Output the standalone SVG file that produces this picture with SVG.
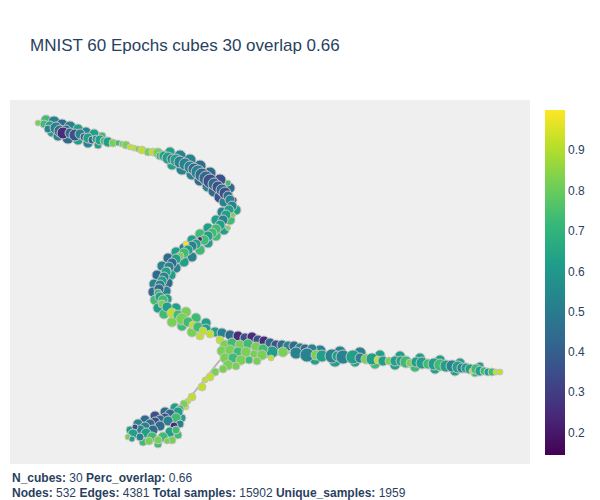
<svg xmlns="http://www.w3.org/2000/svg" width="600" height="500" viewBox="0 0 600 500">
<defs>
<linearGradient id="viridis" x1="0" y1="1" x2="0" y2="0">
<stop offset="0" stop-color="#440154"/>
<stop offset="0.111" stop-color="#482878"/>
<stop offset="0.222" stop-color="#3e4989"/>
<stop offset="0.333" stop-color="#31688e"/>
<stop offset="0.444" stop-color="#26828e"/>
<stop offset="0.556" stop-color="#1f9e89"/>
<stop offset="0.667" stop-color="#35b779"/>
<stop offset="0.778" stop-color="#6ece58"/>
<stop offset="0.889" stop-color="#b5de2b"/>
<stop offset="1" stop-color="#fde725"/>
</linearGradient>
<style>
.nodes circle{stroke:#c4c4c4;stroke-width:1}
.p{fill:#472c7a}.i{fill:#3b518b}.b{fill:#2f6b8e}.t{fill:#26838f}.g{fill:#1fa088}.m{fill:#3fbc73}.l{fill:#77d153}.y{fill:#bfe02a}.Y{fill:#f0e51c}
.edge{stroke:#b4b4b4;stroke-width:2;fill:none}
text{font-family:"Liberation Sans",Arial,sans-serif;fill:#2a3f5f}
.tick{font-size:12px}
.info{font-size:12px;fill:#2a3f5f}
</style>
</defs>
<rect x="0" y="0" width="600" height="500" fill="#ffffff"/>
<rect x="10" y="100" width="520" height="364" fill="#efefef"/>
<text x="30" y="51" font-size="17">MNIST 60 Epochs cubes 30 overlap 0.66</text>

<g id="edges">
<polyline class="edge" points="40,124 100,140 160,155 200,172 232,198 222,222 190,248 164,276 160,296 180,317 215,334 300,349 400,361 500,372"/>
<line class="edge" x1="245" y1="362" x2="300" y2="350"/>
<line class="edge" x1="220" y1="360" x2="180" y2="410"/>
<line class="edge" x1="235" y1="345" x2="290" y2="347"/>
</g>

<g class="nodes">
<g id="n205"><circle cx="46" cy="120" r="5" class="m"/></g>
<g id="n206"><circle cx="54" cy="122" r="6" class="t"/></g>
<g id="n207"><circle cx="62" cy="125" r="6" class="b"/></g>
<g id="n208"><circle cx="70" cy="127" r="6" class="t"/></g>
<g id="n209"><circle cx="78" cy="129" r="5" class="g"/></g>
<g id="n210"><circle cx="86" cy="132" r="5" class="t"/></g>
<g id="n211"><circle cx="94" cy="134" r="5" class="g"/></g>
<g id="n212"><circle cx="102" cy="136" r="4" class="m"/></g>
<g id="n213"><circle cx="52" cy="132" r="5" class="g"/></g>
<g id="n214"><circle cx="58" cy="136" r="5" class="t"/></g>
<g id="n215"><circle cx="68" cy="138" r="6" class="b"/></g>
<g id="n216"><circle cx="78" cy="140" r="5" class="g"/></g>
<g id="n217"><circle cx="88" cy="143" r="5" class="t"/></g>
<g id="n218"><circle cx="98" cy="145" r="4" class="g"/></g>
<g id="n219"><circle cx="170" cy="152" r="5" class="g"/></g>
<g id="n220"><circle cx="180" cy="156" r="6" class="t"/></g>
<g id="n221"><circle cx="190" cy="160" r="6" class="t"/></g>
<g id="n222"><circle cx="200" cy="166" r="6" class="b"/></g>
<g id="n223"><circle cx="210" cy="173" r="6" class="b"/></g>
<g id="n224"><circle cx="220" cy="180" r="6" class="i"/></g>
<g id="n225"><circle cx="230" cy="188" r="5" class="b"/></g>
<g id="n226"><circle cx="172" cy="165" r="5" class="g"/></g>
<g id="n227"><circle cx="182" cy="169" r="6" class="t"/></g>
<g id="n228"><circle cx="192" cy="174" r="6" class="t"/></g>
<g id="n229"><circle cx="200" cy="180" r="6" class="b"/></g>
<g id="n230"><circle cx="208" cy="186" r="6" class="t"/></g>
<g id="n231"><circle cx="214" cy="191" r="6" class="b"/></g>
<g id="n232"><circle cx="220" cy="197" r="6" class="i"/></g>
<g id="n233"><circle cx="224" cy="202" r="5" class="t"/></g>
<g id="n234"><circle cx="236" cy="210" r="5" class="g"/></g>
<g id="n235"><circle cx="230" cy="220" r="5" class="m"/></g>
<g id="n236"><circle cx="224" cy="230" r="5" class="g"/></g>
<g id="n237"><circle cx="216" cy="236" r="5" class="m"/></g>
<g id="n238"><circle cx="208" cy="243" r="5" class="g"/></g>
<g id="n239"><circle cx="200" cy="250" r="5" class="m"/></g>
<g id="n240"><circle cx="192" cy="257" r="5" class="t"/></g>
<g id="n241"><circle cx="184" cy="262" r="5" class="g"/></g>
<g id="n242"><circle cx="176" cy="268" r="5" class="t"/></g>
<g id="n243"><circle cx="171" cy="275" r="5" class="g"/></g>
<g id="n244"><circle cx="168" cy="283" r="5" class="b"/></g>
<g id="n245"><circle cx="166" cy="291" r="5" class="t"/></g>
<g id="n246"><circle cx="167" cy="299" r="5" class="g"/></g>
<g id="n247"><circle cx="222" cy="212" r="5" class="t"/></g>
<g id="n248"><circle cx="216" cy="220" r="5" class="g"/></g>
<g id="n249"><circle cx="208" cy="228" r="5" class="g"/></g>
<g id="n250"><circle cx="200" cy="234" r="5" class="m"/></g>
<g id="n251"><circle cx="192" cy="240" r="5" class="g"/></g>
<g id="n252"><circle cx="184" cy="248" r="5" class="t"/></g>
<g id="n253"><circle cx="176" cy="252" r="5" class="g"/></g>
<g id="n254"><circle cx="168" cy="258" r="5" class="b"/></g>
<g id="n255"><circle cx="162" cy="266" r="5" class="t"/></g>
<g id="n256"><circle cx="157" cy="275" r="5" class="b"/></g>
<g id="n257"><circle cx="154" cy="284" r="5" class="t"/></g>
<g id="n258"><circle cx="153" cy="292" r="5" class="b"/></g>
<g id="n259"><circle cx="155" cy="300" r="5" class="m"/></g>
<g id="n260"><circle cx="158" cy="308" r="5" class="g"/></g>
<g id="n261"><circle cx="164" cy="314" r="5" class="m"/></g>
<g id="n262"><circle cx="176" cy="308" r="5" class="g"/></g>
<g id="n263"><circle cx="186" cy="312" r="5" class="l"/></g>
<g id="n264"><circle cx="196" cy="318" r="5" class="m"/></g>
<g id="n265"><circle cx="206" cy="323" r="5" class="g"/></g>
<g id="n266"><circle cx="172" cy="322" r="5" class="l"/></g>
<g id="n267"><circle cx="182" cy="326" r="5" class="m"/></g>
<g id="n268"><circle cx="192" cy="332" r="5" class="l"/></g>
<g id="n269"><circle cx="200" cy="336" r="4" class="y"/></g>
<g id="n270"><circle cx="320" cy="351" r="6" class="t"/></g>
<g id="n271"><circle cx="340" cy="352" r="6" class="t"/></g>
<g id="n272"><circle cx="360" cy="353" r="6" class="t"/></g>
<g id="n273"><circle cx="380" cy="355" r="5" class="g"/></g>
<g id="n274"><circle cx="400" cy="356" r="5" class="g"/></g>
<g id="n275"><circle cx="420" cy="358" r="5" class="g"/></g>
<g id="n276"><circle cx="440" cy="360" r="5" class="g"/></g>
<g id="n277"><circle cx="460" cy="363" r="5" class="g"/></g>
<g id="n278"><circle cx="480" cy="366" r="4" class="g"/></g>
<g id="n279"><circle cx="315" cy="360" r="5" class="g"/></g>
<g id="n280"><circle cx="335" cy="361" r="6" class="g"/></g>
<g id="n281"><circle cx="355" cy="362" r="5" class="g"/></g>
<g id="n282"><circle cx="375" cy="364" r="5" class="m"/></g>
<g id="n283"><circle cx="395" cy="365" r="5" class="g"/></g>
<g id="n284"><circle cx="415" cy="367" r="5" class="m"/></g>
<g id="n285"><circle cx="435" cy="369" r="5" class="g"/></g>
<g id="n286"><circle cx="455" cy="371" r="5" class="g"/></g>
<g id="n287"><circle cx="475" cy="373" r="4" class="m"/></g>
<g id="n288"><circle cx="175" cy="408" r="5" class="g"/></g>
<g id="n289"><circle cx="165" cy="412" r="5" class="b"/></g>
<g id="n290"><circle cx="155" cy="416" r="5" class="i"/></g>
<g id="n291"><circle cx="145" cy="420" r="5" class="b"/></g>
<g id="n292"><circle cx="138" cy="424" r="5" class="t"/></g>
<g id="n293"><circle cx="130" cy="430" r="4" class="g"/></g>
<g id="n294"><circle cx="182" cy="418" r="4" class="g"/></g>
<g id="n295"><circle cx="172" cy="440" r="4" class="l"/></g>
<g id="n296"><circle cx="158" cy="444" r="4" class="m"/></g>
<g id="n297"><circle cx="143" cy="442" r="4" class="m"/></g>
<g id="n298"><circle cx="178" cy="435" r="4" class="m"/></g>

<g id="n1"><circle cx="38" cy="123" r="3" class="l"/></g>
<g id="n2"><circle cx="44" cy="124" r="4" class="m"/></g>
<g id="n3"><circle cx="50" cy="126" r="5" class="g"/></g>
<g id="n4"><circle cx="48" cy="129" r="4" class="t"/></g>
<g id="n5"><circle cx="56" cy="128" r="6" class="t"/></g>
<g id="n6"><circle cx="60" cy="131" r="6" class="b"/></g>
<g id="n7"><circle cx="66" cy="130" r="5" class="b"/></g>
<g id="n8"><circle cx="63" cy="133" r="6" class="p"/></g>
<g id="n9"><circle cx="70" cy="133" r="5" class="b"/></g>
<g id="n10"><circle cx="75" cy="135" r="6" class="i"/></g>
<g id="n11"><circle cx="80" cy="134" r="5" class="t"/></g>
<g id="n12"><circle cx="84" cy="137" r="4" class="b"/></g>
<g id="n13"><circle cx="88" cy="138" r="5" class="g"/></g>
<g id="n14"><circle cx="92" cy="140" r="4" class="b"/></g>
<g id="n15"><circle cx="96" cy="139" r="4" class="g"/></g>
<g id="n16"><circle cx="100" cy="140" r="5" class="g"/></g>
<g id="n17"><circle cx="104" cy="141" r="4" class="m"/></g>
<g id="n18"><circle cx="108" cy="142" r="5" class="g"/></g>
<g id="n19"><circle cx="113" cy="143" r="4" class="l"/></g>
<g id="n20"><circle cx="118" cy="143" r="3" class="m"/></g>
<g id="n21"><circle cx="122" cy="144" r="3" class="l"/></g>
<g id="n22"><circle cx="126" cy="145" r="4" class="l"/></g>
<g id="n23"><circle cx="130" cy="147" r="3" class="y"/></g>
<g id="n24"><circle cx="134" cy="148" r="3" class="y"/></g>
<g id="n25"><circle cx="138" cy="149" r="3" class="l"/></g>
<g id="n26"><circle cx="142" cy="150" r="4" class="y"/></g>
<g id="n27"><circle cx="148" cy="152" r="4" class="l"/></g>
<g id="n28"><circle cx="153" cy="152" r="4" class="y"/></g>
<g id="n29"><circle cx="158" cy="153" r="5" class="l"/></g>
<g id="n30"><circle cx="160" cy="156" r="4" class="m"/></g>
<g id="n31"><circle cx="164" cy="156" r="5" class="g"/></g>
<g id="n32"><circle cx="168" cy="158" r="6" class="g"/></g>
<g id="n33"><circle cx="172" cy="159" r="5" class="t"/></g>
<g id="n34"><circle cx="176" cy="160" r="6" class="g"/></g>
<g id="n35"><circle cx="180" cy="162" r="6" class="t"/></g>
<g id="n36"><circle cx="185" cy="164" r="6" class="t"/></g>
<g id="n37"><circle cx="190" cy="167" r="6" class="t"/></g>
<g id="n38"><circle cx="194" cy="169" r="6" class="b"/></g>
<g id="n39"><circle cx="198" cy="172" r="7" class="t"/></g>
<g id="n40"><circle cx="228" cy="183" r="3" class="m"/></g>
<g id="n41"><circle cx="202" cy="175" r="7" class="b"/></g>
<g id="n42"><circle cx="206" cy="178" r="7" class="b"/></g>
<g id="n43"><circle cx="210" cy="181" r="7" class="i"/></g>
<g id="n44"><circle cx="214" cy="184" r="6" class="b"/></g>
<g id="n45"><circle cx="218" cy="187" r="6" class="i"/></g>
<g id="n46"><circle cx="222" cy="190" r="6" class="b"/></g>
<g id="n47"><circle cx="225" cy="193" r="6" class="i"/></g>
<g id="n48"><circle cx="228" cy="196" r="5" class="b"/></g>
<g id="n49"><circle cx="234" cy="200" r="3" class="p"/></g>
<g id="n50"><circle cx="230" cy="200" r="5" class="t"/></g>
<g id="n51"><circle cx="232" cy="206" r="5" class="t"/></g>
<g id="n52"><circle cx="229" cy="210" r="5" class="g"/></g>
<g id="n53"><circle cx="226" cy="215" r="5" class="g"/></g>
<g id="n54"><circle cx="233" cy="215" r="2.5" class="l"/></g>
<g id="n55"><circle cx="223" cy="220" r="5" class="t"/></g>
<g id="n56"><circle cx="220" cy="225" r="5" class="g"/></g>
<g id="n57"><circle cx="228" cy="228" r="2.5" class="l"/></g>
<g id="n58"><circle cx="216" cy="229" r="5" class="m"/></g>
<g id="n59"><circle cx="212" cy="233" r="5" class="m"/></g>
<g id="n60"><circle cx="208" cy="236" r="5" class="g"/></g>
<g id="n61"><circle cx="204" cy="240" r="5" class="m"/></g>
<g id="n62"><circle cx="200" cy="239" r="2.5" class="p"/></g>
<g id="n63"><circle cx="196" cy="244" r="5" class="g"/></g>
<g id="n64"><circle cx="192" cy="246" r="5" class="t"/></g>
<g id="n65"><circle cx="186" cy="244" r="3" class="Y"/></g>
<g id="n66"><circle cx="188" cy="250" r="5" class="g"/></g>
<g id="n67"><circle cx="184" cy="253" r="5" class="m"/></g>
<g id="n68"><circle cx="180" cy="256" r="4" class="l"/></g>
<g id="n69"><circle cx="176" cy="259" r="5" class="g"/></g>
<g id="n70"><circle cx="172" cy="263" r="5" class="b"/></g>
<g id="n71"><circle cx="169" cy="267" r="5" class="t"/></g>
<g id="n72"><circle cx="168" cy="270" r="3" class="l"/></g>
<g id="n73"><circle cx="166" cy="272" r="5" class="g"/></g>
<g id="n74"><circle cx="164" cy="277" r="5" class="t"/></g>
<g id="n75"><circle cx="162" cy="281" r="5" class="g"/></g>
<g id="n76"><circle cx="160" cy="285" r="5" class="t"/></g>
<g id="n77"><circle cx="159" cy="289" r="5" class="b"/></g>
<g id="n78"><circle cx="158" cy="293" r="4" class="m"/></g>
<g id="n79"><circle cx="160" cy="297" r="5" class="g"/></g>
<g id="n80"><circle cx="163" cy="300" r="5" class="m"/></g>
<g id="n81"><circle cx="162" cy="304" r="4" class="l"/></g>
<g id="n82"><circle cx="167" cy="307" r="5" class="g"/></g>
<g id="n83"><circle cx="172" cy="313" r="5" class="y"/></g>
<g id="n84"><circle cx="178" cy="315" r="5" class="m"/></g>
<g id="n85"><circle cx="182" cy="319" r="6" class="l"/></g>
<g id="n86"><circle cx="188" cy="322" r="5" class="m"/></g>
<g id="n87"><circle cx="193" cy="325" r="4" class="y"/></g>
<g id="n88"><circle cx="198" cy="327" r="5" class="m"/></g>
<g id="n89"><circle cx="206" cy="329" r="5" class="g"/></g>
<g id="n90"><circle cx="203" cy="331" r="4" class="y"/></g>
<g id="n91"><circle cx="215" cy="332" r="5" class="g"/></g>
<g id="n92"><circle cx="222" cy="333" r="5" class="t"/></g>
<g id="n93"><circle cx="230" cy="335" r="5" class="b"/></g>
<g id="n94"><circle cx="238" cy="336" r="5" class="p"/></g>
<g id="n95"><circle cx="245" cy="338" r="5" class="i"/></g>
<g id="n96"><circle cx="252" cy="337" r="5" class="p"/></g>
<g id="n97"><circle cx="258" cy="340" r="5" class="i"/></g>
<g id="n98"><circle cx="264" cy="341" r="5" class="p"/></g>
<g id="n99"><circle cx="270" cy="343" r="5" class="b"/></g>
<g id="n100"><circle cx="276" cy="345" r="5" class="i"/></g>
<g id="n101"><circle cx="282" cy="345" r="5" class="b"/></g>
<g id="n102"><circle cx="288" cy="346" r="5" class="t"/></g>
<g id="n103"><circle cx="294" cy="346" r="5" class="b"/></g>
<g id="n104"><circle cx="300" cy="348" r="5" class="t"/></g>
<g id="n105"><circle cx="305" cy="349" r="5" class="b"/></g>
<g id="n106"><circle cx="312" cy="349" r="5" class="t"/></g>
<g id="n107"><circle cx="210" cy="334" r="4" class="y"/></g>
<g id="n108"><circle cx="272" cy="352" r="6" class="g"/></g>
<g id="n109"><circle cx="283" cy="352" r="5" class="l"/></g>
<g id="n110"><circle cx="296" cy="353" r="6" class="t"/></g>
<g id="n111"><circle cx="307" cy="355" r="7" class="t"/></g>
<g id="n112"><circle cx="316" cy="355" r="5" class="l"/></g>
<g id="n113"><circle cx="322" cy="356" r="6" class="g"/></g>
<g id="n114"><circle cx="332" cy="356" r="7" class="t"/></g>
<g id="n115"><circle cx="337" cy="356" r="5" class="g"/></g>
<g id="n116"><circle cx="343" cy="357" r="7" class="t"/></g>
<g id="n117"><circle cx="353" cy="357" r="7" class="g"/></g>
<g id="n118"><circle cx="360" cy="358" r="5" class="t"/></g>
<g id="n119"><circle cx="366" cy="359" r="5" class="l"/></g>
<g id="n120"><circle cx="372" cy="359" r="6" class="g"/></g>
<g id="n121"><circle cx="378" cy="360" r="4" class="y"/></g>
<g id="n122"><circle cx="383" cy="361" r="5" class="g"/></g>
<g id="n123"><circle cx="389" cy="361" r="4" class="l"/></g>
<g id="n124"><circle cx="395" cy="361" r="5" class="g"/></g>
<g id="n125"><circle cx="401" cy="361" r="5" class="g"/></g>
<g id="n126"><circle cx="406" cy="362" r="6" class="m"/></g>
<g id="n127"><circle cx="410" cy="363" r="4" class="l"/></g>
<g id="n128"><circle cx="416" cy="362" r="5" class="g"/></g>
<g id="n129"><circle cx="422" cy="363" r="6" class="g"/></g>
<g id="n130"><circle cx="428" cy="364" r="5" class="m"/></g>
<g id="n131"><circle cx="434" cy="364" r="6" class="g"/></g>
<g id="n132"><circle cx="440" cy="365" r="6" class="m"/></g>
<g id="n133"><circle cx="446" cy="366" r="6" class="g"/></g>
<g id="n134"><circle cx="452" cy="366" r="6" class="t"/></g>
<g id="n135"><circle cx="458" cy="367" r="6" class="g"/></g>
<g id="n136"><circle cx="462" cy="368" r="5" class="t"/></g>
<g id="n137"><circle cx="466" cy="368" r="5" class="g"/></g>
<g id="n138"><circle cx="470" cy="369" r="5" class="g"/></g>
<g id="n139"><circle cx="472" cy="371" r="3" class="y"/></g>
<g id="n140"><circle cx="476" cy="369" r="5" class="m"/></g>
<g id="n141"><circle cx="480" cy="371" r="5" class="g"/></g>
<g id="n142"><circle cx="484" cy="371" r="4" class="m"/></g>
<g id="n143"><circle cx="488" cy="372" r="4" class="g"/></g>
<g id="n144"><circle cx="492" cy="372" r="4" class="m"/></g>
<g id="n145"><circle cx="496" cy="372" r="3" class="y"/></g>
<g id="n146"><circle cx="500" cy="372" r="3" class="y"/></g>
<g id="n147"><circle cx="220" cy="340" r="4" class="y"/></g>
<g id="n148"><circle cx="225" cy="345" r="5" class="l"/></g>
<g id="n149"><circle cx="232" cy="343" r="5" class="m"/></g>
<g id="n150"><circle cx="240" cy="345" r="5" class="l"/></g>
<g id="n151"><circle cx="248" cy="344" r="5" class="m"/></g>
<g id="n152"><circle cx="256" cy="347" r="5" class="l"/></g>
<g id="n153"><circle cx="263" cy="349" r="5" class="m"/></g>
<g id="n154"><circle cx="222" cy="351" r="5" class="l"/></g>
<g id="n155"><circle cx="230" cy="350" r="5" class="l"/></g>
<g id="n156"><circle cx="238" cy="352" r="5" class="m"/></g>
<g id="n157"><circle cx="246" cy="352" r="5" class="l"/></g>
<g id="n158"><circle cx="254" cy="354" r="4" class="l"/></g>
<g id="n159"><circle cx="262" cy="355" r="5" class="l"/></g>
<g id="n160"><circle cx="271" cy="358" r="3" class="y"/></g>
<g id="n161"><circle cx="225" cy="358" r="5" class="l"/></g>
<g id="n162"><circle cx="233" cy="358" r="5" class="m"/></g>
<g id="n163"><circle cx="241" cy="360" r="5" class="l"/></g>
<g id="n164"><circle cx="249" cy="360" r="4" class="m"/></g>
<g id="n165"><circle cx="257" cy="361" r="4" class="l"/></g>
<g id="n166"><circle cx="228" cy="365" r="5" class="l"/></g>
<g id="n167"><circle cx="236" cy="366" r="4" class="l"/></g>
<g id="n168"><circle cx="223" cy="369" r="4" class="l"/></g>
<g id="n169"><circle cx="215" cy="372" r="4" class="l"/></g>
<g id="n170"><circle cx="210" cy="377" r="4" class="y"/></g>
<g id="n171"><circle cx="205" cy="380" r="3" class="y"/></g>
<g id="n172"><circle cx="202" cy="387" r="4" class="y"/></g>
<g id="n173"><circle cx="192" cy="397" r="4" class="y"/></g>
<g id="n174"><circle cx="188" cy="401" r="3" class="y"/></g>
<g id="n175"><circle cx="186" cy="407" r="3" class="y"/></g>
<g id="n176"><circle cx="184" cy="404" r="4" class="l"/></g>
<g id="n177"><circle cx="180" cy="409" r="4" class="m"/></g>
<g id="n178"><circle cx="178" cy="412" r="5" class="g"/></g>
<g id="n179"><circle cx="170" cy="414" r="5" class="b"/></g>
<g id="n180"><circle cx="176" cy="418" r="5" class="m"/></g>
<g id="n181"><circle cx="165" cy="418" r="5" class="i"/></g>
<g id="n182"><circle cx="160" cy="420" r="5" class="b"/></g>
<g id="n183"><circle cx="168" cy="421" r="5" class="t"/></g>
<g id="n184"><circle cx="180" cy="424" r="4" class="t"/></g>
<g id="n185"><circle cx="174" cy="426" r="4" class="p"/></g>
<g id="n186"><circle cx="155" cy="422" r="5" class="i"/></g>
<g id="n187"><circle cx="150" cy="424" r="5" class="b"/></g>
<g id="n188"><circle cx="145" cy="427" r="5" class="t"/></g>
<g id="n189"><circle cx="160" cy="426" r="5" class="b"/></g>
<g id="n190"><circle cx="153" cy="430" r="5" class="b"/></g>
<g id="n191"><circle cx="140" cy="430" r="5" class="t"/></g>
<g id="n192"><circle cx="135" cy="427" r="3" class="i"/></g>
<g id="n193"><circle cx="146" cy="433" r="5" class="g"/></g>
<g id="n194"><circle cx="133" cy="434" r="5" class="g"/></g>
<g id="n195"><circle cx="128" cy="437" r="3" class="l"/></g>
<g id="n196"><circle cx="132" cy="439" r="3" class="g"/></g>
<g id="n197"><circle cx="140" cy="437" r="4" class="t"/></g>
<g id="n198"><circle cx="170" cy="432" r="5" class="g"/></g>
<g id="n199"><circle cx="176" cy="430" r="4" class="m"/></g>
<g id="n200"><circle cx="152" cy="437" r="5" class="m"/></g>
<g id="n201"><circle cx="163" cy="437" r="5" class="m"/></g>
<g id="n202"><circle cx="158" cy="440" r="4" class="l"/></g>
<g id="n203"><circle cx="149" cy="441" r="4" class="l"/></g>
<g id="n204"><circle cx="167" cy="441" r="3" class="l"/></g>
</g>

<g id="colorbar">
<rect x="545" y="110" width="20" height="345" fill="url(#viridis)"/>
<text class="tick" x="568" y="154">0.9</text>
<text class="tick" x="568" y="195">0.8</text>
<text class="tick" x="568" y="235">0.7</text>
<text class="tick" x="568" y="276">0.6</text>
<text class="tick" x="568" y="316">0.5</text>
<text class="tick" x="568" y="356">0.4</text>
<text class="tick" x="568" y="396">0.3</text>
<text class="tick" x="568" y="437">0.2</text>
</g>

<text class="info" x="12" y="482"><tspan font-weight="bold">N_cubes:</tspan> 30 <tspan font-weight="bold">Perc_overlap:</tspan> 0.66</text>
<text class="info" x="12" y="497"><tspan font-weight="bold">Nodes:</tspan> 532 <tspan font-weight="bold">Edges:</tspan> 4381 <tspan font-weight="bold">Total samples:</tspan> 15902 <tspan font-weight="bold">Unique_samples:</tspan> 1959</text>
</svg>
